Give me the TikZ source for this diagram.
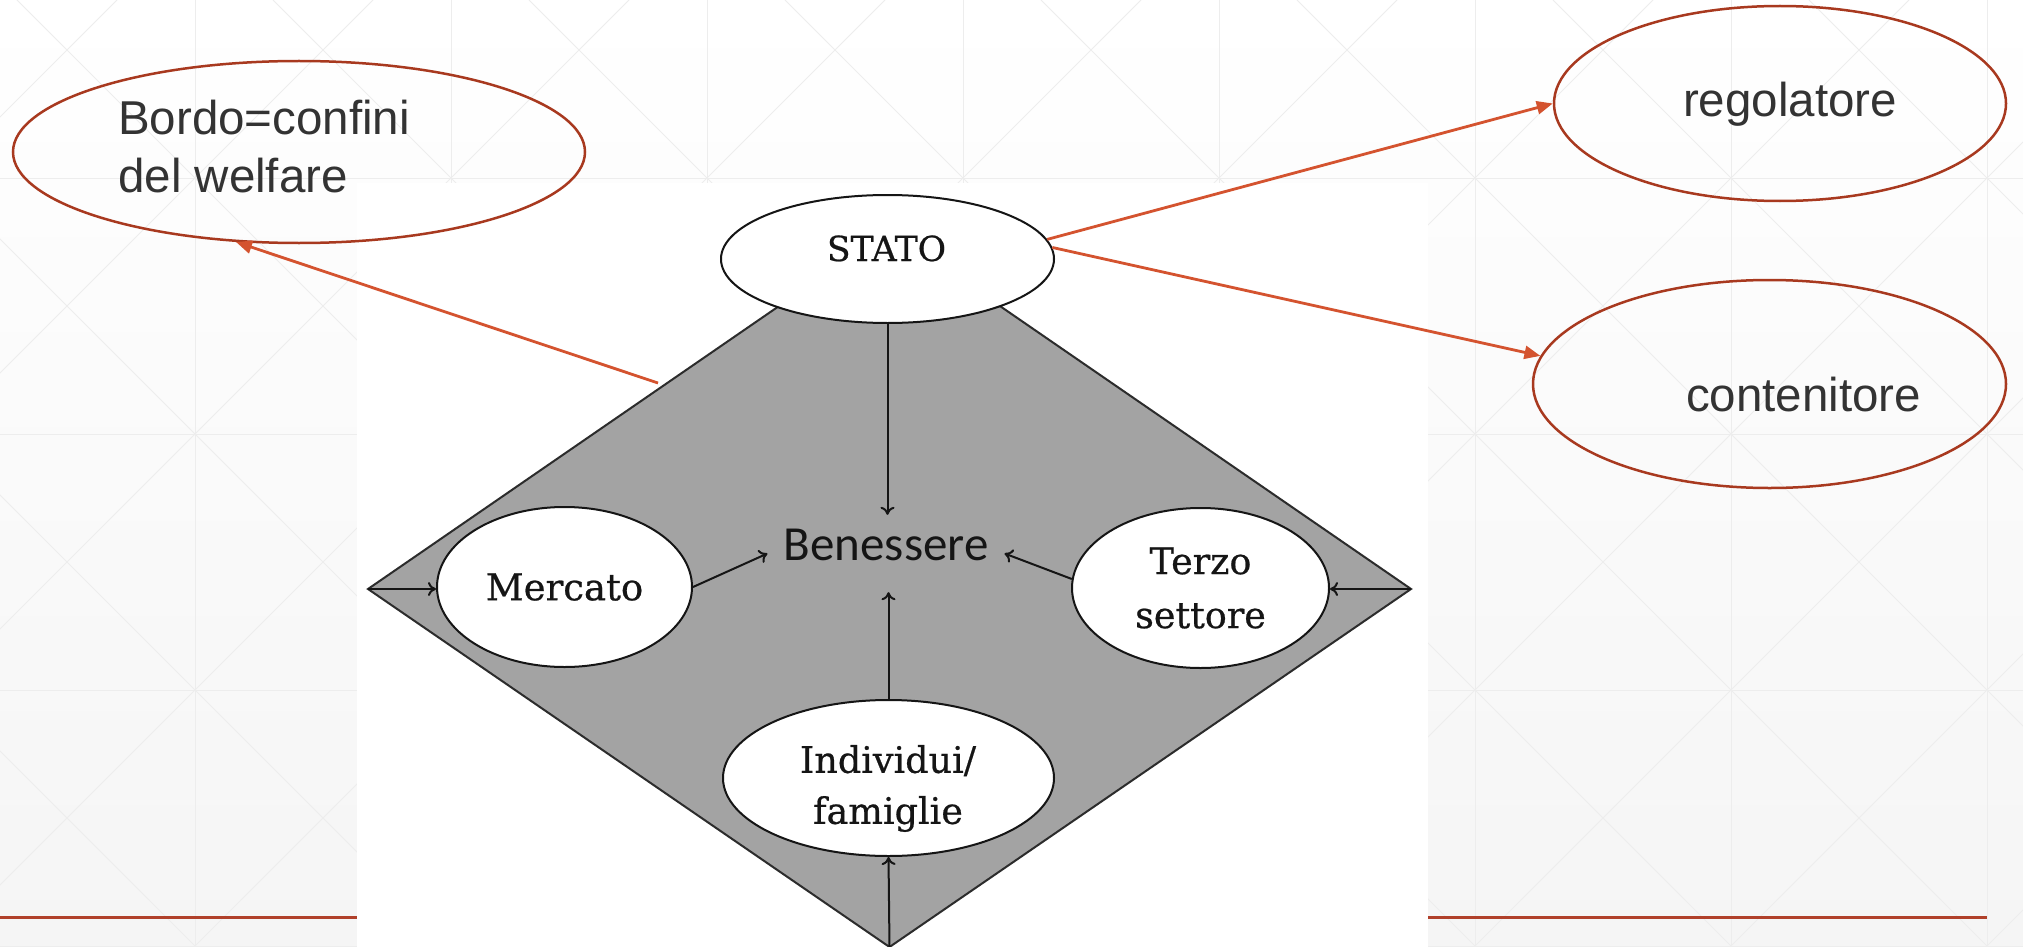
\documentclass[tikz,border=0pt]{standalone}
\usepackage{fontspec}
\usetikzlibrary{shapes.geometric,arrows.meta,calc}
\newfontfamily\fsans{Liberation Sans}
\newfontfamily\fserif{DejaVu Serif}[FakeBold=0.6]
\newfontfamily\fcali{Carlito}
\definecolor{bgbot}{HTML}{F5F5F5}
\definecolor{gridc}{HTML}{EDEDED}
\definecolor{redarrow}{HTML}{D4532F}
\definecolor{redline}{HTML}{A8391F}
\definecolor{footline}{HTML}{B0402A}
\definecolor{diagray}{HTML}{A3A3A3}
\definecolor{txtgray}{HTML}{333333}
\definecolor{inkblack}{HTML}{151515}
\begin{document}
\begin{tikzpicture}[x=1pt,y=-1pt,
  redell/.style={ellipse, draw=redline, line width=2.5pt, inner sep=0pt},
  bigtext/.style={font=\fsans\fontsize{47.5}{58}\selectfont, text=txtgray, inner sep=0pt},
  blkell/.style={ellipse, draw=inkblack, line width=2pt, fill=white, inner sep=0pt},
  sertext/.style={font=\fserif\fontsize{36.5}{51}\selectfont, text=inkblack, align=center, inner sep=0pt},
  redarr/.style={draw=redarrow, line width=2.8pt, -{Triangle[length=16pt,width=13pt]}},
  blkarr/.style={draw=inkblack, line width=2pt, -{Computer Modern Rightarrow[length=8pt,width=14pt]}},
  gridline/.style={draw=gridc, line width=1pt}
]
\useasboundingbox (0,0) rectangle (2023,947);
% slide background
\shade[top color=white, bottom color=bgbot] (0,0) rectangle (2023,947);
\begin{scope}
  \clip (0,0) rectangle (2023,947);
  \foreach \x in {195,451,...,1987} \draw[gridline] (\x,0) -- (\x,947);
  \foreach \y in {178,434,690,946} \draw[gridline] (0,\y) -- (2023,\y);
  \foreach \c in {-1007,-751,...,2065} \draw[gridline] (\c,0) -- ++(947,947);
  \foreach \c in {117,373,...,3189} \draw[gridline] (\c,0) -- ++(-947,947);
\end{scope}
% footer line
\draw[footline, line width=3pt] (0,917) -- (1987,917);
% pasted picture area
\fill[white] (357,183) rectangle (1428,947);
% diamond
\coordinate (L) at (368,589);
\coordinate (R) at (1411,589);
\coordinate (T) at (889.5,230);
\coordinate (B) at (889.5,947);
\filldraw[fill=diagray, draw=inkblack!90, line width=2pt] (L) -- (T) -- (R) -- (B) -- cycle;
% inner nodes
\node[blkell, minimum width=333pt, minimum height=128pt] (stato) at (887.5,259) {};
\node[sertext, font=\fserif\fontsize{34.5}{40}\selectfont, anchor=base] (tstato) at (886.5,261) {STATO};
\node[blkell, sertext, font=\fserif\fontsize{37}{51}\selectfont, minimum width=255pt, minimum height=160pt] (merc) at (564.5,587) {Mercato};
\node[blkell, sertext, font=\fserif\fontsize{36.5}{54}\selectfont, minimum width=257pt, minimum height=160pt] (terzo) at (1200.5,588) {Terzo\\settore};
\node[blkell, minimum width=331pt, minimum height=156pt] (indiv) at (888.5,778) {};
\node[sertext] (tindiv) at (888,788.5) {Individui/\\famiglie};
\node[font=\fcali\fontsize{49}{58}\selectfont, text=inkblack, inner xsep=16pt, inner ysep=0pt, text height=45pt, text depth=32pt] (bene) at (886,553.5) {Benessere};
% black arrows
\draw[blkarr] (stato.south) -- (stato.south |- bene.north);
\draw[blkarr] (merc.east) -- (bene.west);
\draw[blkarr] (terzo.176) -- (bene.east);
\draw[blkarr] (indiv.north) -- (indiv.north |- bene.south);
\draw[blkarr] (L) -- (L -| merc.west);
\draw[blkarr] (R) -- (R -| terzo.east);
\draw[blkarr] (B) -- (indiv.south);
% outer red ellipses
\node[redell, minimum width=572pt, minimum height=182pt] (bordo) at (299,152) {};
\node[bigtext, anchor=north west, align=left] (tbordo) at (118,99.5) {Bordo=confini\\del welfare};
\node[redell, minimum width=452pt, minimum height=195pt] (rego) at (1780,103.5) {};
\node[bigtext, anchor=base] (trego) at (1790,117) {regolatore};
\node[redell, minimum width=473pt, minimum height=208pt] (cont) at (1769.5,384) {};
\node[bigtext, anchor=base] (tcont) at (1803.5,411) {contenitore};
% red arrows
\coordinate (bstart) at (658,383);
\draw[redarr] (bstart) -- (bordo.235);
\draw[redarr] (stato.7) -- (rego.west);
\draw[redarr] (stato.4) -- (cont.173);
\end{tikzpicture}
\end{document}
